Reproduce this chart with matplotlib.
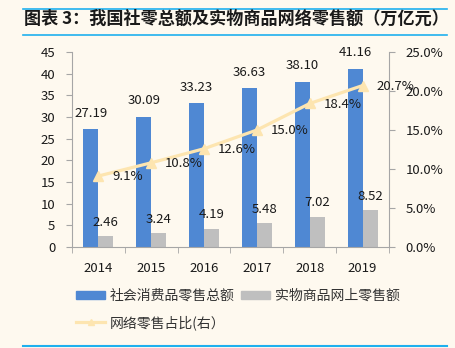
import matplotlib
matplotlib.use("Agg")
import matplotlib.pyplot as plt
from matplotlib.lines import Line2D
from matplotlib.patches import Patch
import numpy as np

plt.rcParams['font.family'] = ['Noto Sans CJK SC', 'DejaVu Sans']

years = ['2014', '2015', '2016', '2017', '2018', '2019']
total_retail = [27.19, 30.09, 33.23, 36.63, 38.10, 41.16]
online_physical = [2.46, 3.24, 4.19, 5.48, 7.02, 8.52]
online_share = [9.1, 10.8, 12.6, 15.0, 18.4, 20.7]

left_ticks = [0, 5, 10, 15, 20, 25, 30, 35, 40, 45]
right_ticks = [0, 5, 10, 15, 20, 25]

title = '图表 3：我国社零总额及实物商品网络零售额（万亿元）'
lbl_total = '社会消费品零售总额'
lbl_online = '实物商品网上零售额'
lbl_share = '网络零售占比(右）'

BG = '#FEF9EF'
BLUE = '#4F88D3'
GRAY = '#BFBFBF'
YEL = '#FDE5B0'
AX = '#A6A6A6'
TXT = '#1A1A1A'
LINEBLUE = '#1FB0EE'

W, H = 456, 348
fig = plt.figure(figsize=(W / 100, H / 100), dpi=100, facecolor=BG)
ax = fig.add_axes([72 / W, 1 - 247 / H, (389 - 72) / W, (247 - 52) / H])
ax.set_facecolor(BG)

x = np.arange(len(years))
bw = 0.284
ax.bar(x - bw / 2, total_retail, bw, color=BLUE, zorder=2)
ax.bar(x + bw / 2, online_physical, bw, color=GRAY, zorder=2)
ax.set_xlim(-0.5, len(years) - 0.5)
ax.set_ylim(0, 45)
ax.set_yticks(left_ticks)
ax.set_yticklabels([str(t) for t in left_ticks])
ax.set_xticks(x)
ax.set_xticklabels(years)
ax.set_xticks(np.arange(-0.5, len(years)), minor=True)
ax.tick_params(axis='x', which='major', length=0, pad=11, labelsize=9.5, colors=TXT)
ax.tick_params(axis='x', which='minor', length=4, color=AX, direction='out')
ax.tick_params(axis='y', length=4, color=AX, pad=8, labelsize=9.5, labelcolor=TXT)

for s in ['top', 'right']:
    ax.spines[s].set_visible(False)
for s in ['left', 'bottom']:
    ax.spines[s].set_color(AX)

for xi, v in zip(x, total_retail):
    ax.annotate(f'{v:.2f}', (xi - bw / 2, v), xytext=(0, 11.5), textcoords='offset points',
                ha='center', va='center', fontsize=9.5, color=TXT, zorder=5)
for xi, v in zip(x, online_physical):
    ax.annotate(f'{v:.2f}', (xi + bw / 2, v), xytext=(0, 10), textcoords='offset points',
                ha='center', va='center', fontsize=9.5, color=TXT, zorder=5)

ax2 = ax.twinx()
ax2.set_ylim(0, 25)
ax2.set_yticks(right_ticks)
ax2.set_yticklabels([f'{t:.1f}%' for t in right_ticks])
ax2.tick_params(axis='y', length=4, color=AX, pad=8, labelsize=9.5, labelcolor=TXT)
for s in ['top', 'left', 'bottom']:
    ax2.spines[s].set_visible(False)
ax2.spines['right'].set_color(AX)
ax2.plot(x, online_share, color=YEL, lw=2.3, marker='^', markersize=6.5,
         markerfacecolor=YEL, markeredgecolor=YEL, zorder=4)
for xi, v in zip(x, online_share):
    ax2.annotate(f'{v:.1f}%', (xi, v), xytext=(10, -0.5), textcoords='offset points',
                 ha='left', va='center', fontsize=9.5, color=TXT, zorder=5)

# Title and rules
fig.add_artist(Line2D([23 / W, 447 / W], [1 - 9 / H, 1 - 9 / H], color=LINEBLUE, lw=1.2))
fig.add_artist(Line2D([23 / W, 447 / W], [1 - 34.5 / H, 1 - 34.5 / H], color=LINEBLUE, lw=1.2))
fig.add_artist(Line2D([23 / W, 447 / W], [1 - 346 / H, 1 - 346 / H], color=LINEBLUE, lw=1.5))
fig.text(24 / W, 1 - 18.5 / H, title, fontsize=12.3, fontweight='bold', color=TXT,
         ha='left', va='center')

handles = [Patch(color=BLUE), Line2D([], [], color=YEL, lw=2.3, marker='^', markersize=5,
                                     markerfacecolor=YEL, markeredgecolor=YEL), Patch(color=GRAY)]
labels = [lbl_total, lbl_share, lbl_online]
leg = fig.legend(handles, labels, ncol=2, loc='upper left', bbox_to_anchor=(76 / W, 1 - 289 / H),
                 frameon=False, fontsize=10, handlelength=2.1, handleheight=0.5,
                 handletextpad=0.35, columnspacing=0.45, labelspacing=0.85, borderpad=0,
                 borderaxespad=0)
for t in leg.get_texts():
    t.set_color('#333333')

fig.savefig('out.png', dpi=100, facecolor=BG)
